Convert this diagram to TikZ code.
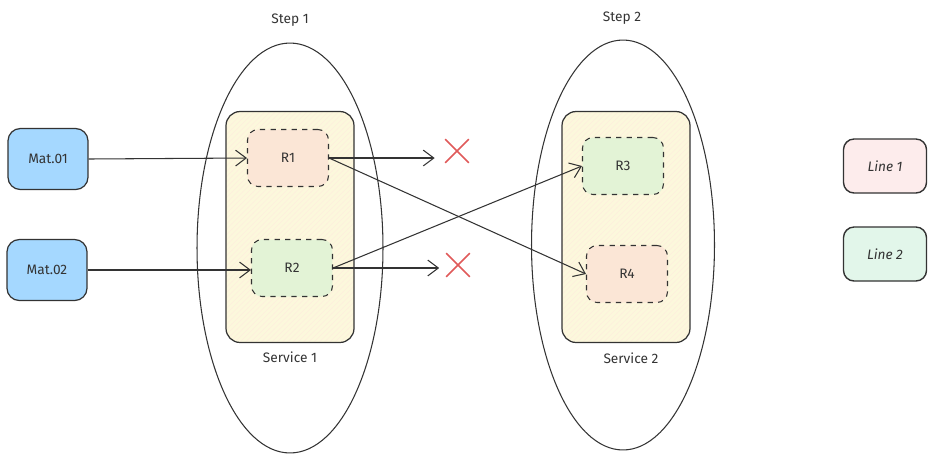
\documentclass[tikz,border=0pt]{standalone}
\usepackage{fontspec}
\setmainfont{Fira Sans}
\usepackage{xcolor}
\usetikzlibrary{shapes.geometric,shapes.misc,arrows.meta,patterns}

\definecolor{matblue}{HTML}{A5D8FF}
\definecolor{servyellow}{HTML}{FCF8DC}
\definecolor{rorange}{HTML}{FBE6D6}
\definecolor{rgreen}{HTML}{E3F3D6}
\definecolor{linepink}{HTML}{FDECEC}
\definecolor{linegreen}{HTML}{E2F6EA}
\definecolor{crossred}{HTML}{E05A5A}
\definecolor{ink}{HTML}{333333}

\begin{document}
\begin{tikzpicture}[x=0.02cm,y=-0.02cm,
  every node/.style={font=\fontsize{7.8}{9}\selectfont, text=ink},
  matbox/.style={draw=ink, line width=0.7pt, rounded corners=7pt, fill=matblue,
    minimum width=1.6cm, minimum height=1.22cm},
  servbox/.style={draw=ink, line width=0.7pt, rounded corners=8pt,
    preaction={fill=servyellow},
    pattern=north east lines, pattern color=servyellow!70!orange!35,
    minimum width=2.56cm, minimum height=4.62cm},
  rbox/.style={draw=ink, dashed, line width=0.6pt, rounded corners=6pt,
    minimum width=1.62cm, minimum height=1.14cm},
  legbox/.style={draw=ink, line width=0.8pt, rounded corners=6pt,
    minimum width=1.66cm, minimum height=1.08cm, font=\itshape\fontsize{7.8}{9}\selectfont},
  stepring/.style={draw=ink, line width=0.6pt, ellipse, minimum height=8.2cm},
  nogo/.style={cross out, draw=crossred, line width=0.9pt, minimum size=0.44cm, inner sep=0pt},
  arr/.style={draw=ink, line width=0.6pt, -{Straight Barb[length=6pt,width=9pt]}}]
%\draw[help lines] (0,0) grid (947,461);
\useasboundingbox (0,0) rectangle (947,461);

% steps
\node[stepring, minimum width=3.72cm] (step1) at (290,248) {};
\node[stepring, minimum width=3.66cm] (step2) at (623,245) {};
\node (step1lbl) at (290,20) {Step 1};
\node (step2lbl) at (622,18) {Step 2};

% services
\node[servbox] (serv1) at (290,227) {};
\node[servbox] (serv2) at (626,227) {};
\node (serv1lbl) at (290,357) {Service 1};
\node (serv2lbl) at (631,358) {Service 2};

% lines
\node[rbox, fill=rorange] (r1) at (288,158) {R1};
\node[rbox, fill=rgreen] (r2) at (292,268) {R2};
\node[rbox, fill=rgreen] (r3) at (623,166) {R3};
\node[rbox, fill=rorange] (r4) at (627,274) {R4};

% materials
\node[matbox] (mat1) at (48,159) {Mat.01};
\node[matbox] (mat2) at (47,270) {Mat.02};

% legend
\node[legbox, fill=linepink] (line1) at (885,166) {Line 1};
\node[legbox, fill=linegreen] (line2) at (885,254) {Line 2};

% blocked outputs
\node[nogo] (x1) at (457,151) {};
\node[nogo] (x2) at (458,265) {};

\draw[arr] (mat1.east) -- (r1.west);
\draw[arr] (mat2.east) -- (r2.west |- mat2.east);
\draw[arr] (r1.east) -- ([xshift=-6pt]x1.west |- r1.east);
\draw[arr] (r2.east) -- ([xshift=-4pt]x2.west |- r2.east);
\draw[arr] (r1.east) -- (r4.west);
\draw[arr] (r2.east) -- (r3.west);
\end{tikzpicture}
\end{document}
